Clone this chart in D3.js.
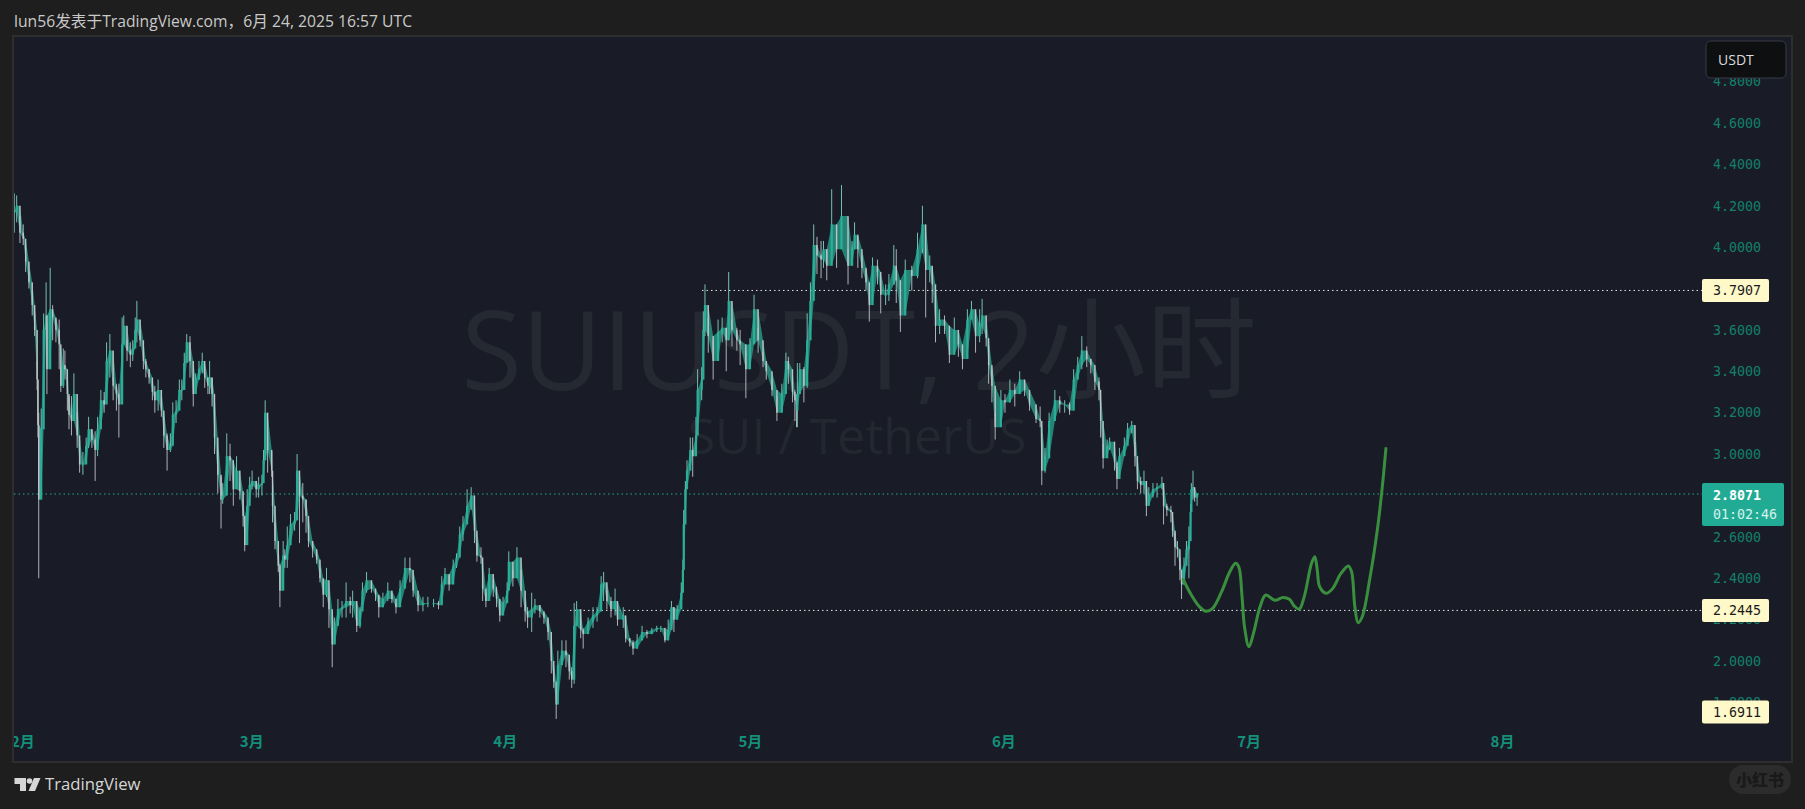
<!DOCTYPE html>
<html><head><meta charset="utf-8">
<script src="https://cdn.jsdelivr.net/npm/d3@7"></script>
<style>html,body{margin:0;padding:0;background:#1e1e1e;overflow:hidden}svg{display:block}</style>
</head><body><svg id="c" width="1805" height="809"></svg>
<script>
// [day of month, high, low, close]
const barsFeb=[[0.0,4.26,4.07,4.17],[0.3,4.25,4.12,4.20],[0.7,4.15,4.02,4.07],[1.1,4.11,4.01,4.04],[1.4,4.00,3.88,3.93],[1.8,3.88,3.80,3.83],[2.2,3.79,3.67,3.72],[2.5,3.68,3.57,3.60],[2.8,3.45,3.31,3.36],[2.9,3.36,3.08,3.14],[3.0,3.20,2.40,2.78],[3.3,3.22,2.97,3.12],[3.6,3.68,3.50,3.60],[3.9,3.83,3.60,3.67],[4.0,3.63,3.29,3.41],[4.4,3.90,3.47,3.70],[4.7,3.72,3.55,3.66],[5.1,3.65,3.54,3.60],[5.5,3.65,3.41,3.53],[5.7,3.42,3.30,3.33],[6.0,3.51,3.32,3.43],[6.2,3.50,3.36,3.41],[6.5,3.37,3.21,3.29],[6.7,3.28,3.12,3.19],[7.0,3.28,3.09,3.16],[7.3,3.39,3.21,3.29],[7.7,3.20,3.03,3.09],[8.0,3.07,2.91,2.95],[8.4,3.01,2.90,2.95],[8.8,3.08,2.99,3.04],[9.1,3.18,3.03,3.12],[9.5,3.12,3.03,3.07],[9.9,3.11,2.87,3.02],[10.2,3.18,2.99,3.12],[10.6,3.31,3.20,3.26],[11.0,3.30,3.20,3.24],[11.3,3.54,3.32,3.45],[11.7,3.58,3.37,3.50],[12.1,3.37,3.26,3.33],[12.5,3.34,3.21,3.29],[12.8,3.34,3.08,3.24],[13.2,3.66,3.32,3.53],[13.4,3.67,3.55,3.62],[13.8,3.55,3.45,3.50],[14.2,3.54,3.42,3.48],[14.5,3.55,3.45,3.51],[14.8,3.66,3.54,3.60],[15.0,3.74,3.54,3.65],[15.4,3.60,3.52,3.55],[15.8,3.50,3.41,3.45],[16.1,3.46,3.37,3.41],[16.5,3.41,3.34,3.37],[16.9,3.34,3.26,3.30],[17.2,3.33,3.20,3.26],[17.6,3.36,3.21,3.31],[18.0,3.28,3.18,3.21],[18.3,3.18,3.03,3.09],[18.7,3.10,2.92,3.02],[19.1,3.10,3.01,3.04],[19.4,3.25,3.15,3.19],[19.8,3.26,3.15,3.21],[20.2,3.36,3.28,3.31],[20.5,3.36,3.26,3.31],[20.8,3.49,3.39,3.44],[21.1,3.58,3.49,3.54],[21.5,3.57,3.37,3.45],[21.9,3.37,3.23,3.29],[22.2,3.39,3.32,3.36],[22.6,3.45,3.36,3.41],[23.0,3.49,3.39,3.45],[23.3,3.42,3.32,3.37],[23.7,3.37,3.29,3.33],[23.9,3.45,3.29,3.37],[24.2,3.37,3.23,3.29],[24.5,3.25,3.00,3.08],[24.9,3.02,2.81,2.90],[25.3,2.89,2.64,2.78],[25.5,2.86,2.76,2.80],[26.0,3.10,2.87,2.99],[26.4,3.05,2.87,2.97],[26.8,2.91,2.75,2.83],[27.2,2.99,2.84,2.92],[27.6,2.86,2.78,2.82],[28.0,2.78,2.65,2.70],[28.2,2.65,2.53,2.56],[28.5,2.83,2.62,2.75],[28.8,2.89,2.79,2.85]];
const barsMar=[[1.1,2.92,2.83,2.87],[1.6,2.87,2.79,2.83],[1.9,2.89,2.79,2.85],[2.3,2.90,2.80,2.86],[2.5,3.02,2.89,2.97],[2.7,3.26,3.12,3.20],[3.0,3.11,2.91,3.02],[3.5,3.01,2.89,2.92],[3.6,2.86,2.67,2.75],[3.9,2.67,2.54,2.58],[4.3,2.52,2.43,2.46],[4.5,2.47,2.26,2.34],[4.9,2.58,2.45,2.51],[5.1,2.54,2.45,2.49],[5.4,2.65,2.45,2.56],[5.8,2.71,2.60,2.66],[6.3,2.72,2.63,2.68],[6.6,3.00,2.78,2.92],[6.9,2.89,2.57,2.80],[7.3,2.86,2.67,2.78],[7.7,2.78,2.62,2.70],[8.0,2.63,2.55,2.58],[8.5,2.58,2.50,2.54],[9.0,2.52,2.47,2.49],[9.4,2.45,2.38,2.40],[9.8,2.39,2.26,2.32],[10.2,2.45,2.31,2.39],[10.5,2.31,2.16,2.25],[10.9,2.16,1.97,2.08],[11.2,2.21,2.09,2.17],[11.6,2.30,2.18,2.25],[12.1,2.29,2.21,2.26],[12.6,2.38,2.21,2.29],[13.1,2.31,2.23,2.27],[13.4,2.34,2.21,2.29],[13.9,2.21,2.14,2.17],[14.3,2.26,2.16,2.24],[14.6,2.38,2.31,2.34],[15.1,2.43,2.33,2.39],[15.7,2.38,2.33,2.35],[16.2,2.34,2.29,2.32],[16.6,2.31,2.21,2.26],[17.1,2.33,2.26,2.30],[17.7,2.38,2.29,2.34],[18.2,2.33,2.28,2.30],[18.7,2.28,2.23,2.26],[19.2,2.39,2.30,2.35],[19.8,2.50,2.38,2.45],[20.4,2.50,2.38,2.44],[20.8,2.38,2.31,2.34],[21.4,2.31,2.24,2.27],[22.0,2.31,2.24,2.28],[22.6,2.31,2.26,2.28],[23.3,2.30,2.26,2.28],[23.9,2.29,2.25,2.27],[24.3,2.41,2.31,2.37],[24.7,2.45,2.38,2.42],[25.2,2.41,2.34,2.37],[25.7,2.49,2.44,2.46],[26.1,2.52,2.45,2.50],[26.5,2.65,2.54,2.61],[26.9,2.70,2.58,2.66],[27.4,2.83,2.67,2.75],[27.9,2.84,2.73,2.80],[28.3,2.71,2.57,2.63],[28.6,2.57,2.48,2.51],[29.1,2.55,2.47,2.50],[29.3,2.43,2.29,2.35],[29.7,2.33,2.26,2.29],[30.1,2.45,2.36,2.42],[30.6,2.39,2.31,2.35],[31.0,2.36,2.26,2.30],[31.4,2.28,2.19,2.22]];
const barsApr=[[0.8,2.31,2.26,2.28],[1.3,2.38,2.31,2.34],[1.5,2.53,2.41,2.48],[2.0,2.44,2.36,2.40],[2.5,2.55,2.41,2.50],[3.0,2.44,2.26,2.34],[3.5,2.28,2.19,2.24],[3.8,2.26,2.16,2.21],[4.3,2.33,2.14,2.25],[4.7,2.30,2.23,2.27],[5.3,2.27,2.21,2.24],[5.8,2.23,2.18,2.21],[6.3,2.20,2.10,2.14],[6.7,2.10,1.94,2.00],[7.0,1.96,1.87,1.90],[7.3,1.86,1.72,1.79],[7.5,2.05,1.92,1.98],[8.0,2.10,2.01,2.05],[8.5,2.10,1.97,2.03],[8.9,2.01,1.91,1.95],[9.2,1.97,1.87,1.91],[9.5,2.28,1.89,2.17],[9.8,2.29,2.18,2.25],[10.3,2.20,2.11,2.15],[10.6,2.16,2.06,2.13],[11.2,2.21,2.15,2.19],[11.8,2.26,2.16,2.22],[12.3,2.26,2.19,2.24],[12.8,2.41,2.31,2.37],[13.1,2.43,2.29,2.38],[13.5,2.34,2.25,2.29],[14.0,2.31,2.21,2.25],[14.5,2.35,2.22,2.29],[14.8,2.24,2.17,2.20],[15.5,2.26,2.16,2.22],[15.8,2.15,2.09,2.11],[16.3,2.11,2.07,2.09],[16.7,2.10,2.03,2.06],[17.2,2.13,2.06,2.10],[17.8,2.17,2.10,2.14],[18.4,2.15,2.11,2.13],[19.0,2.16,2.13,2.15],[19.6,2.17,2.14,2.16],[20.1,2.17,2.14,2.16],[20.6,2.14,2.09,2.10],[21.0,2.20,2.10,2.15],[21.4,2.29,2.21,2.26],[21.7,2.26,2.14,2.20],[22.1,2.27,2.20,2.25],[22.6,2.38,2.26,2.33],[22.8,2.49,2.36,2.44],[22.9,2.73,2.45,2.66],[23.1,2.87,2.70,2.83],[23.3,2.97,2.86,2.92],[23.7,3.08,2.94,3.02],[24.0,3.08,2.89,2.99],[24.4,3.18,2.99,3.09],[24.6,3.41,3.23,3.31],[25.1,3.42,3.26,3.36],[25.3,3.69,3.42,3.60],[25.5,3.82,3.57,3.72],[25.9,3.66,3.49,3.57],[26.5,3.55,3.36,3.45],[27.1,3.65,3.50,3.59],[27.6,3.66,3.54,3.61],[28.1,3.61,3.40,3.55],[28.4,3.88,3.60,3.74],[28.8,3.65,3.52,3.60],[29.4,3.61,3.50,3.55],[29.8,3.60,3.43,3.53],[30.5,3.50,3.27,3.41]];
const barsMay=[[1.0,3.56,3.46,3.53],[1.5,3.77,3.60,3.70],[2.0,3.61,3.49,3.55],[2.6,3.49,3.42,3.45],[3.0,3.44,3.36,3.40],[3.7,3.36,3.28,3.31],[4.3,3.28,3.16,3.20],[4.9,3.34,3.21,3.29],[5.4,3.49,3.39,3.45],[5.7,3.47,3.34,3.41],[6.2,3.36,3.25,3.30],[6.5,3.31,3.16,3.26],[6.7,3.29,3.13,3.21],[6.8,3.44,3.13,3.29],[7.1,3.44,3.34,3.41],[7.6,3.42,3.25,3.33],[8.0,3.68,3.32,3.55],[8.4,3.83,3.66,3.74],[8.8,4.11,3.90,4.01],[9.2,4.05,3.87,3.96],[9.7,4.03,3.85,3.94],[10.0,4.03,3.90,3.99],[10.4,3.99,3.84,3.91],[11.0,4.28,3.97,4.11],[11.6,4.02,3.90,3.99],[12.2,4.30,4.03,4.15],[13.0,3.99,3.82,3.91],[13.5,4.03,3.95,3.99],[13.8,4.12,3.99,4.06],[14.2,4.05,3.90,3.99],[14.7,3.96,3.85,3.90],[15.2,3.89,3.79,3.83],[15.6,3.79,3.64,3.72],[16.0,3.95,3.84,3.91],[16.6,3.94,3.82,3.88],[17.0,3.84,3.68,3.77],[17.6,3.82,3.72,3.77],[18.0,3.87,3.74,3.82],[18.6,4.01,3.82,3.91],[18.9,3.99,3.73,3.84],[19.4,3.74,3.59,3.67],[20.0,3.94,3.81,3.89],[20.8,3.91,3.79,3.86],[21.5,4.07,3.85,3.99],[22.1,4.20,3.97,4.11],[22.5,3.99,3.66,3.89],[23.0,3.96,3.83,3.91],[23.3,3.90,3.73,3.82],[23.7,3.72,3.54,3.62],[24.2,3.70,3.58,3.65],[24.8,3.67,3.58,3.62],[25.4,3.52,3.44,3.48],[26.0,3.66,3.54,3.60],[26.5,3.58,3.47,3.53],[27.0,3.52,3.41,3.46],[27.6,3.70,3.58,3.65],[28.1,3.74,3.66,3.70],[28.6,3.65,3.49,3.57],[29.1,3.70,3.54,3.62],[29.4,3.75,3.58,3.67],[29.9,3.60,3.52,3.56],[30.2,3.52,3.34,3.43],[30.6,3.41,3.25,3.33],[31.0,3.20,3.07,3.13]];
const barsJun=[[0.7,3.31,3.20,3.26],[1.2,3.29,3.20,3.25],[1.8,3.36,3.25,3.31],[2.4,3.34,3.23,3.29],[3.0,3.40,3.30,3.36],[3.6,3.34,3.28,3.31],[4.2,3.28,3.21,3.24],[5.0,3.21,3.15,3.17],[5.5,3.23,3.13,3.16],[5.7,3.10,2.85,2.92],[6.1,3.03,2.91,2.98],[6.6,3.20,3.13,3.16],[7.3,3.31,3.21,3.26],[7.9,3.28,3.20,3.24],[8.5,3.26,3.20,3.24],[9.1,3.25,3.19,3.21],[9.6,3.41,3.31,3.36],[10.1,3.47,3.37,3.43],[10.6,3.57,3.41,3.50],[11.2,3.52,3.42,3.46],[11.7,3.46,3.39,3.43],[12.2,3.39,3.31,3.35],[12.7,3.37,3.26,3.31],[12.9,3.25,3.08,3.16],[13.2,3.05,2.93,2.98],[13.7,3.07,2.99,3.03],[14.0,3.08,3.02,3.06],[14.6,3.00,2.92,2.96],[14.9,2.94,2.83,2.88],[15.2,3.03,2.96,2.99],[15.8,3.08,2.99,3.04],[16.2,3.15,3.07,3.12],[16.7,3.16,3.10,3.14],[17.1,3.06,2.94,2.99],[17.4,2.94,2.83,2.87],[17.8,2.89,2.81,2.85],[18.2,2.92,2.81,2.87],[18.5,2.81,2.70,2.75],[18.8,2.84,2.76,2.80],[19.3,2.86,2.79,2.83],[19.8,2.86,2.79,2.84],[20.4,2.89,2.83,2.86],[20.6,2.83,2.66,2.75],[21.0,2.76,2.70,2.73],[21.5,2.75,2.67,2.72],[21.7,2.67,2.60,2.63],[22.0,2.62,2.46,2.55],[22.3,2.58,2.50,2.54],[22.6,2.50,2.39,2.44],[22.8,2.41,2.30,2.37],[23.1,2.50,2.43,2.46],[23.4,2.58,2.47,2.54],[23.7,2.65,2.40,2.58],[23.9,2.76,2.65,2.72],[24.0,2.86,2.74,2.83],[24.2,2.92,2.78,2.84],[24.4,2.82,2.77,2.79],[24.7,2.81,2.75,2.81]];
// hand-drawn projection: [days after 1 June, price]
const drawing=[[22.0,2.394],[23.0,2.319],[24.0,2.262],[24.8,2.240],[25.6,2.254],[26.7,2.335],[27.7,2.431],[28.4,2.472],[28.8,2.455],[29.2,2.310],[29.5,2.165],[30.05,2.069],[30.6,2.134],[31.4,2.262],[32.1,2.319],[33.2,2.294],[34.2,2.307],[35.0,2.298],[35.6,2.265],[36.2,2.251],[36.8,2.310],[37.7,2.472],[38.1,2.504],[38.4,2.440],[38.7,2.359],[39.5,2.327],[40.3,2.351],[41.3,2.423],[42.2,2.459],[42.6,2.431],[43.0,2.262],[43.4,2.185],[43.9,2.214],[44.8,2.391],[45.8,2.649],[46.4,2.858],[46.8,3.027]];
const priceTicks=[4.8,4.6,4.4,4.2,4.0,3.8,3.6,3.4,3.2,3.0,2.8,2.6,2.4,2.2,2.0,1.8];
const monthStarts=[1,2,3,4,5,6,7];
const highLabel=3.7907, lowLabel=2.2445, lastLabel=2.8071, bottomLabel=1.6911;
const lastTimer="01:02:46";
const title="lun56发表于TradingView.com，6月 24, 2025 16:57 UTC";
const wm1="SUIUSDT, 2小时", wm2="SUI / TetherUS";

const DAY=864e5, mono="'DejaVu Sans Mono',monospace", sans="'Open Sans','Noto Sans CJK SC',sans-serif";
const plot={l:14,t:37,r:1791,b:761};
const x=d3.scaleUtc().domain([Date.UTC(2025,1,1),Date.UTC(2025,7,1)]).range([22.4,1502]);
const y=d3.scaleLinear().domain([4.6,2.0]).range([123,661]);
const svg=d3.select("#c");
const months=[[1,barsFeb],[2,barsMar],[3,barsApr],[4,barsMay],[5,barsJun]];
const bars=months.flatMap(([m,rows])=>rows.map(r=>({t:Date.UTC(2025,m,1)+(r[0]-1)*DAY,h:r[1],l:r[2],c:r[3]})));
bars.forEach((b,i)=>{b.o=i?bars[i-1].c:b.c;b.up=b.c>=b.o;});

svg.append("rect").attr("width",1805).attr("height",809).attr("fill","#1e1e1e");
svg.append("text").attr("x",14).attr("y",27).attr("fill","#c9c9c9").attr("font-family",sans).attr("font-size",15.7).text(title);
svg.append("rect").attr("x",plot.l-1).attr("y",plot.t-1).attr("width",plot.r-plot.l+2).attr("height",plot.b-plot.t+2).attr("fill","#191c26").attr("stroke","#2e2e2e").attr("stroke-width",2);
svg.append("clipPath").attr("id","pc").append("rect").attr("x",plot.l).attr("y",plot.t).attr("width",plot.r-plot.l).attr("height",plot.b-plot.t);
const g=svg.append("g").attr("clip-path","url(#pc)");
g.append("text").attr("x",859).attr("y",390).attr("text-anchor","middle").attr("fill","#252932").attr("font-family",sans).attr("font-size",110.5).text(wm1);
g.append("text").attr("x",857).attr("y",454).attr("text-anchor","middle").attr("fill","#232730").attr("font-family",sans).attr("font-size",50).text(wm2);

const hline=(p,x0,col)=>g.append("line").attr("x1",x0).attr("x2",1702).attr("y1",y(p)).attr("y2",y(p)).attr("stroke",col).attr("stroke-width",1).attr("stroke-dasharray","1.5 3");
hline(lastLabel,plot.l,"#22ab94");
hline(highLabel,702,"#e6e6e6");
hline(lowLabel,570,"#e6e6e6");

const up="#2aae98",down="#bfc3c7",upW="#7fd2c3";
// teal ribbon joining the open/close bands of neighbouring candles, as the 2-hour candles merge at this zoom
const ribbon=d3.area().x(d=>x(d.t)).y0(d=>y(Math.min(d.o,d.c))).y1(d=>y(Math.max(d.o,d.c)));
g.append("path").attr("d",ribbon(bars)).attr("fill","#2aa592").attr("opacity",0.75);
g.append("g").selectAll("line").data(bars).join("line")
 .attr("x1",d=>x(d.t)).attr("x2",d=>x(d.t)).attr("y1",d=>y(d.h)).attr("y2",d=>y(d.l))
 .attr("stroke",d=>d.up?upW:down).attr("stroke-width",0.9);
g.append("g").selectAll("rect").data(bars).join("rect")
 .attr("x",d=>x(d.t)-(d.up?1.1:0.7)).attr("width",d=>d.up?2.2:1.4)
 .attr("y",d=>y(Math.max(d.o,d.c))).attr("height",d=>Math.max(1,Math.abs(y(d.o)-y(d.c))))
 .attr("fill",d=>d.up?up:down);

const line=d3.line().x(d=>x(Date.UTC(2025,5,1)+d[0]*DAY)).y(d=>y(d[1])).curve(d3.curveCatmullRom.alpha(0.5));
g.append("path").attr("d",line(drawing)).attr("fill","none").attr("stroke","#3a8f3e").attr("stroke-width",3).attr("stroke-linecap","round");

// axes
const ax=svg.append("g").attr("transform","translate(1705,0)").call(d3.axisRight(y).tickValues(priceTicks).tickFormat(d3.format(".4f")).tickSize(0).tickPadding(8));
ax.select(".domain").remove();
ax.selectAll("text").attr("fill","#13806c").attr("font-family",mono).attr("font-size",13.3);
const bx=g.append("g").attr("transform","translate(0,742)").call(d3.axisBottom(x).tickValues(monthStarts.map(m=>new Date(Date.UTC(2025,m,1)))).tickFormat(d=>(d.getUTCMonth()+1)+"月").tickSize(0).tickPadding(0));
bx.select(".domain").remove();
bx.selectAll("text").attr("fill","#14907a").attr("font-family","'Noto Sans CJK SC',sans-serif").attr("font-weight",700).attr("font-size",15).attr("dy","0.35em").attr("y",0);

// labels
const tag=(p,cy)=>{const c=cy===undefined?y(p):cy;
 svg.append("rect").attr("x",1702).attr("y",c-11.5).attr("width",67).attr("height",23).attr("rx",2).attr("fill","#fff9c9");
 svg.append("text").attr("x",1713).attr("y",c).attr("dy","0.36em").attr("fill","#1a1a1a").attr("font-family",mono).attr("font-size",13.3).text(d3.format(".4f")(p));};
tag(highLabel);tag(lowLabel);tag(bottomLabel,Math.min(y(bottomLabel),712));
const yl=y(lastLabel);
svg.append("rect").attr("x",1702).attr("y",yl-11).attr("width",82).attr("height",43).attr("rx",2).attr("fill","#22ab94");
svg.append("text").attr("x",1713).attr("y",yl+1).attr("dy","0.36em").attr("fill","#fff").attr("font-weight",700).attr("font-family",mono).attr("font-size",13.3).text(d3.format(".4f")(lastLabel));
svg.append("text").attr("x",1713).attr("y",yl+20).attr("dy","0.36em").attr("fill","#d6f2ec").attr("font-family",mono).attr("font-size",13.3).text(lastTimer);

svg.append("rect").attr("x",1706).attr("y",41).attr("width",80).attr("height",37).attr("rx",5).attr("fill","#0e0f10").attr("stroke","#363a42");
svg.append("text").attr("x",1718).attr("y",60).attr("dy","0.36em").attr("fill","#dcdcdc").attr("font-family",sans).attr("font-size",14).text("USDT");

// footer
const logo=svg.append("g").attr("fill","#d6d6d6");
logo.append("path").attr("d","M14.5 778H26V791H20V784H14.5Z");
logo.append("circle").attr("cx",29.5).attr("cy",781).attr("r",2.8);
logo.append("path").attr("d","M34 778H40.5L35 791H28.5Z");
svg.append("text").attr("x",45).attr("y",790).attr("fill","#d6d6d6").attr("font-family",sans).attr("font-size",16.7).text("TradingView");
svg.append("rect").attr("x",1729).attr("y",765).attr("width",62).attr("height",29).attr("rx",14.5).attr("fill","#2c2c2c");
svg.append("text").attr("x",1760).attr("y",780).attr("dy","0.36em").attr("text-anchor","middle").attr("fill","#191919").attr("font-family","'Noto Sans CJK SC',sans-serif").attr("font-weight",900).attr("font-size",16).text("小红书");
</script></body></html>
